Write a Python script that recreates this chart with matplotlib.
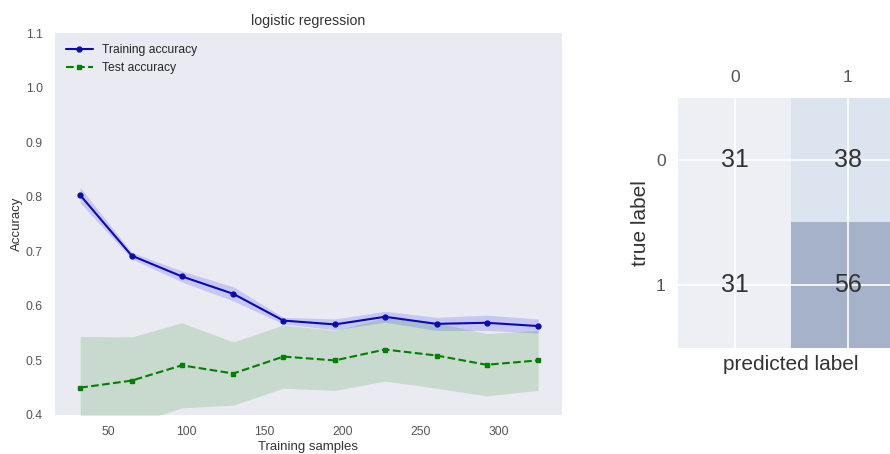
import numpy as np
import matplotlib
matplotlib.use('Agg')
import matplotlib.pyplot as plt

# learning curve data
train_sizes = [32, 65, 97, 130, 162, 195, 227, 260, 292, 325]
train_mean = [0.803, 0.692, 0.654, 0.622, 0.573, 0.566, 0.580, 0.567, 0.569, 0.563]
train_std = [0.014, 0.006, 0.010, 0.013, 0.006, 0.010, 0.010, 0.012, 0.014, 0.013]
test_mean = [0.450, 0.463, 0.491, 0.476, 0.507, 0.500, 0.520, 0.509, 0.492, 0.500]
test_std = [0.094, 0.080, 0.078, 0.058, 0.058, 0.055, 0.058, 0.060, 0.057, 0.055]

# confusion matrix
confmat = np.array([[31, 38],
                    [31, 56]])
class_labels = ['0', '1']

plt.style.use('seaborn-v0_8-darkgrid')
plt.rcParams['font.family'] = ['Liberation Sans', 'DejaVu Sans']
plt.rcParams['xtick.color'] = '#555555'
plt.rcParams['ytick.color'] = '#555555'

fig = plt.figure(figsize=(8.9, 4.54), dpi=100)

ax1 = fig.add_axes([0.062, 0.086, 0.569, 0.841])
tm = np.array(train_mean); ts = np.array(train_std)
vm = np.array(test_mean); vs = np.array(test_std)
ax1.plot(train_sizes, tm, color='#0a0ab4', marker='o', markersize=3.5, lw=1.5,
         label='Training accuracy')
ax1.fill_between(train_sizes, tm + ts, tm - ts, alpha=0.15, color='blue', lw=0)
ax1.plot(train_sizes, vm, color='green', linestyle='--', marker='s', markersize=3.5,
         lw=1.5, label='Test accuracy')
ax1.fill_between(train_sizes, vm + vs, vm - vs, alpha=0.15, color='green', lw=0)
ax1.grid(False)
ax1.set_ylim(0.4, 1.1)
ax1.set_xlim(16, 340)
ax1.set_xticks([50, 100, 150, 200, 250, 300])
ax1.set_yticks(np.arange(0.4, 1.11, 0.1))
ax1.tick_params(axis='x', labelsize=8.7, pad=8)
ax1.tick_params(axis='y', labelsize=8.7, pad=9)
ax1.set_xlabel('Training samples', fontsize=9.5, color='#333333', labelpad=2)
ax1.set_ylabel('Accuracy', fontsize=9.5, color='#333333', labelpad=2)
ax1.set_title('logistic regression', fontsize=10.2, color='#333333', pad=6)
ax1.legend(loc='upper left', fontsize=8.7, frameon=False, handlelength=2.2)

ax2 = fig.add_axes([0.762, 0.2335, 0.254, 0.551])
ax2.matshow(confmat, cmap=plt.cm.Blues, alpha=0.3, aspect='auto')
for i in range(confmat.shape[0]):
    for j in range(confmat.shape[1]):
        ax2.text(j, i, str(confmat[i, j]), va='center', ha='center',
                 fontsize=18, color='#333333')
ax2.set_xticks([0, 1])
ax2.set_yticks([0, 1])
ax2.set_xticklabels(class_labels)
ax2.set_yticklabels(class_labels)
ax2.tick_params(labelsize=12.5, pad=9)
ax2.grid(True, color='white', lw=1.2)
ax2.set_xlabel('predicted label', fontsize=15, color='#333333', labelpad=5)
ax2.set_ylabel('true label', fontsize=15, color='#333333', labelpad=4)

fig.savefig('out.png', dpi=100)
